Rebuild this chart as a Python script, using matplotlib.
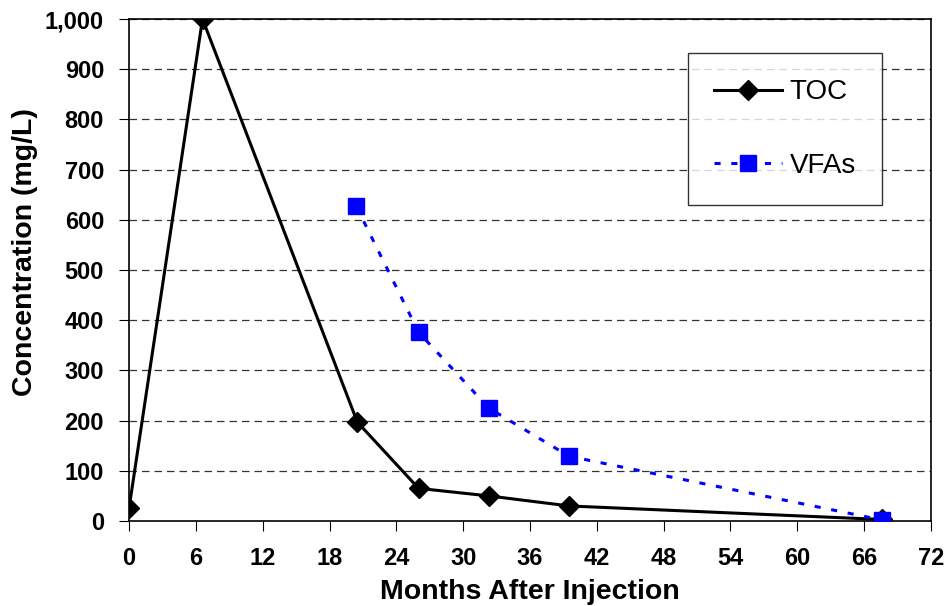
import matplotlib
matplotlib.use("Agg")
import matplotlib.pyplot as plt
from matplotlib.ticker import FuncFormatter

# data
toc_months = [0, 6.6, 20.5, 26.0, 32.3, 39.5, 67.6]
toc_conc = [25, 1000, 197, 65, 50, 30, 3]
vfa_months = [20.4, 26.0, 32.3, 39.5, 67.6]
vfa_conc = [627, 376, 225, 129, 2]
x_ticks = list(range(0, 73, 6))
y_ticks = list(range(0, 1001, 100))

plt.rcParams['font.family'] = ['Liberation Sans', 'DejaVu Sans']
plt.rcParams.update({
    'xtick.major.pad': 12, 'ytick.major.pad': 11,
    'xtick.major.size': 7, 'ytick.major.size': 7,
    'xtick.direction': 'out', 'ytick.direction': 'out',
    'xtick.labelsize': 17, 'ytick.labelsize': 17,
})

fig = plt.figure(figsize=(9.48, 6.06), dpi=100)
ax = fig.add_axes([129 / 948, 1 - 521 / 606, 802 / 948, 502 / 606])

for y in y_ticks[1:]:
    ax.axhline(y, color='#333333', lw=0.9, ls=(0, (6, 4)), zorder=1)

ax.plot(toc_months, toc_conc, color='black', lw=2.2, marker='D', ms=10.5,
        label='TOC', zorder=3)
ax.plot(vfa_months, vfa_conc, color='#0000ff', lw=2.2, ls=(0, (2, 3.5)),
        marker='s', ms=11, label='VFAs', zorder=4)

ax.set_xlim(0, 72)
ax.set_ylim(0, 1000)
ax.set_xticks(x_ticks)
ax.set_yticks(y_ticks)
ax.yaxis.set_major_formatter(FuncFormatter(lambda v, p: f"{int(v):,}"))
for lab in ax.get_xticklabels() + ax.get_yticklabels():
    lab.set_fontweight('bold')

for side in ['left', 'bottom', 'right', 'top']:
    ax.spines[side].set_linewidth(1.2)
    ax.spines[side].set_color('black')

ax.set_xlabel('Months After Injection', fontsize=20.5, fontweight='bold', labelpad=6)
ax.set_ylabel('Concentration (mg/L)', fontsize=20.5, fontweight='bold', labelpad=5)
ax.yaxis.label.set_y(0.536)

leg = ax.legend(loc='upper left', bbox_to_anchor=(688 / 948, 1 - 53 / 606),
                bbox_transform=fig.transFigure, borderaxespad=0, fontsize=20,
                frameon=True, fancybox=False, edgecolor='black', handlelength=2.45,
                labelspacing=1.7, borderpad=0.95, handletextpad=0.25)
leg.get_frame().set_linewidth(1.0)

fig.savefig("out.png", dpi=100)
